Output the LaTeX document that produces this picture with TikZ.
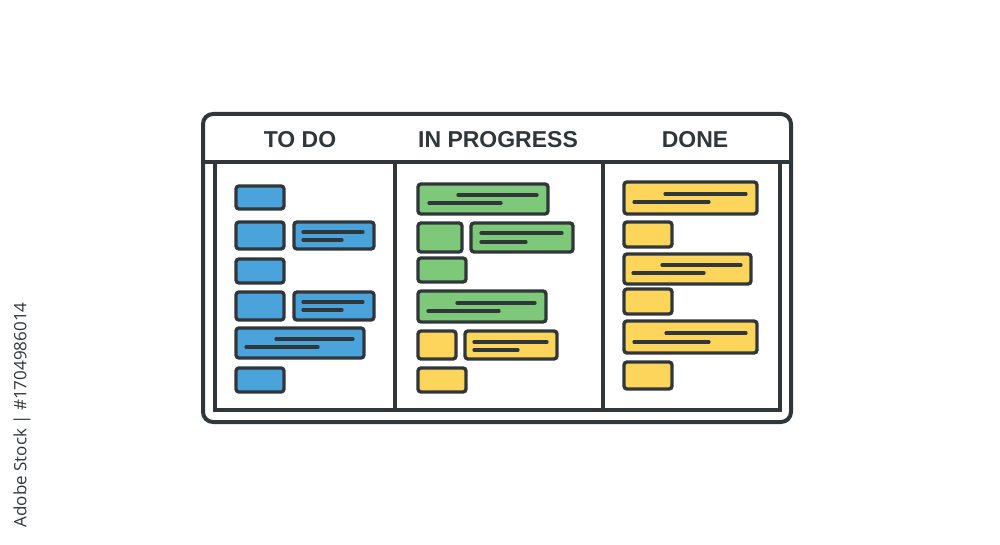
\documentclass[tikz,border=0pt]{standalone}
\usepackage{fontspec}
\setmainfont{Liberation Sans}
\newfontfamily\wmfont{Open Sans}
\definecolor{ink}{HTML}{30373A}
\definecolor{cblue}{HTML}{4BA3DB}
\definecolor{cgreen}{HTML}{7EC87A}
\definecolor{cyellow}{HTML}{FDD55B}
\tikzset{
  frame/.style={draw=ink, line width=4pt},
  card/.style={draw=ink, line width=3.4pt, rounded corners=3pt},
  txtline/.style={draw=ink, line width=3.2pt, line cap=round},
  head/.style={font=\bfseries\fontsize{23}{26}\selectfont, text=ink, inner sep=0pt}
}
\begin{document}
\begin{tikzpicture}[x=1pt,y=-1pt]
\useasboundingbox (0,0) rectangle (1000,545);
\fill[white] (0,0) rectangle (1000,545);
% frame
\draw[frame, rounded corners=10pt] (203,114) rectangle (791,422);
\draw[frame] (203,162) -- (791,162);
\draw[frame] (215,162) -- (215,410) -- (780,410) -- (780,162);
\draw[frame] (395,162) -- (395,410);
\draw[frame] (603,162) -- (603,410);
% headers
\node[head] (h1) at (300,140) {TO DO};
\node[head] (h2) at (498,140) {IN PROGRESS};
\node[head] (h3) at (695,140) {DONE};
% TO DO column
\draw[card, fill=cblue] (236,186) rectangle (284,209);
\draw[card, fill=cblue] (236,222) rectangle (284,249);
\draw[card, fill=cblue] (294,222) rectangle (374,249);
\draw[txtline] (303,232) -- (363,232); \draw[txtline] (303,240) -- (342,240);
\draw[card, fill=cblue] (236,259) rectangle (284,283);
\draw[card, fill=cblue] (236,292) rectangle (284,320);
\draw[card, fill=cblue] (294,292) rectangle (374,320);
\draw[txtline] (303,302) -- (363,302); \draw[txtline] (303,310) -- (342,310);
\draw[card, fill=cblue] (236,328) rectangle (364,358);
\draw[txtline] (276,339) -- (353,339); \draw[txtline] (246,347) -- (318,347);
\draw[card, fill=cblue] (236,368) rectangle (284,392);
% IN PROGRESS column
\draw[card, fill=cgreen] (418,184) rectangle (548,214);
\draw[txtline] (458,195) -- (537,195); \draw[txtline] (429,203) -- (501,203);
\draw[card, fill=cgreen] (418,223) rectangle (462,252);
\draw[card, fill=cgreen] (471,223) rectangle (573,252);
\draw[txtline] (481,233) -- (562,233); \draw[txtline] (481,242) -- (526,242);
\draw[card, fill=cgreen] (418,258) rectangle (466,282);
\draw[card, fill=cgreen] (418,291) rectangle (546,322);
\draw[txtline] (457,303) -- (535,303); \draw[txtline] (428,311) -- (499,311);
\draw[card, fill=cyellow] (418,331) rectangle (456,359);
\draw[card, fill=cyellow] (465,331) rectangle (557,359);
\draw[txtline] (474,342) -- (547,342); \draw[txtline] (474,350) -- (518,350);
\draw[card, fill=cyellow] (418,368) rectangle (466,392);
% DONE column
\draw[card, fill=cyellow] (624,182) rectangle (757,214);
\draw[txtline] (665,194) -- (746,194); \draw[txtline] (634,202) -- (709,202);
\draw[card, fill=cyellow] (624,222) rectangle (672,247);
\draw[card, fill=cyellow] (624,254) rectangle (751,284);
\draw[txtline] (662,265) -- (741,265); \draw[txtline] (633,273) -- (704,273);
\draw[card, fill=cyellow] (624,289) rectangle (672,314);
\draw[card, fill=cyellow] (624,321) rectangle (757,353);
\draw[txtline] (666,333) -- (746,333); \draw[txtline] (634,342) -- (709,342);
\draw[card, fill=cyellow] (624,362) rectangle (672,389);
% watermark text
\node[rotate=90, font=\wmfont\fontsize{17}{20}\selectfont, text=ink, inner sep=0pt] (wm) at (22,415) {Adobe Stock | \#1704986014};
\end{tikzpicture}
\end{document}
